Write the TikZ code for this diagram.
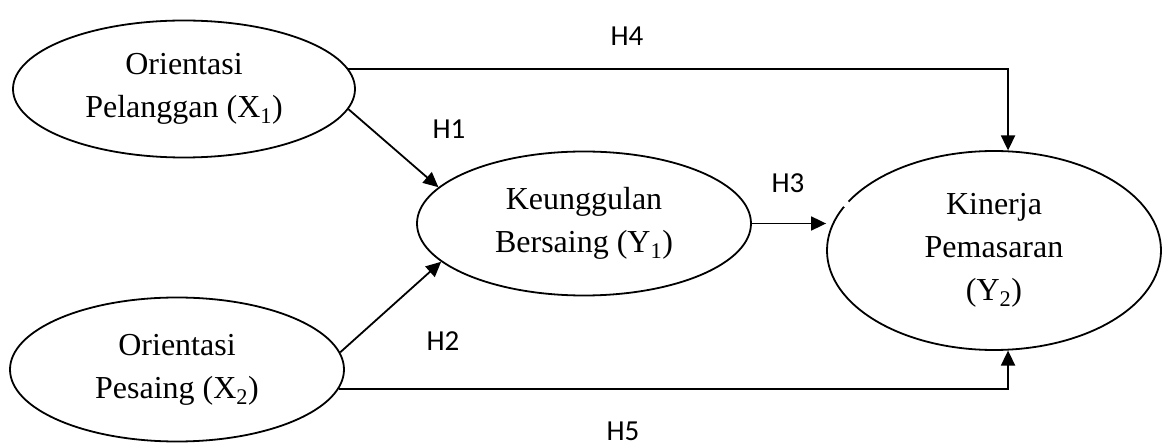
\documentclass[tikz,border=0pt]{standalone}
\usepackage{fontspec}
\setmainfont{Liberation Serif}
\newfontfamily\lblfont{Carlito}
\usetikzlibrary{shapes.geometric,arrows.meta}
\begin{document}
\begin{tikzpicture}[x=1pt,y=-1pt,
  var/.style={draw, line width=1.8pt, ellipse, inner sep=0pt, align=center,
    font=\fontsize{32}{43}\selectfont},
  conn/.style={line width=1.8pt, -{Triangle[length=15pt,width=14pt]}},
  hyp/.style={font=\lblfont\fontsize{29}{34}\selectfont, inner sep=0pt}]
\useasboundingbox (0,0) rectangle (1163,446);
\node[var, minimum width=342pt, minimum height=137pt] (x1) at (184,89)
  {Orientasi\\Pelanggan (X\textsubscript{1})};
\node[var, minimum width=334pt, minimum height=144pt] (y1) at (584,223.5)
  {Keunggulan\\Bersaing (Y\textsubscript{1})};
\node[var, minimum width=334pt, minimum height=199pt] (y2) at (994,250.5)
  {Kinerja\\Pemasaran\\(Y\textsubscript{2})};
\node[var, minimum width=334pt, minimum height=144pt] (x2) at (177,369.5)
  {Orientasi\\Pesaing (X\textsubscript{2})};
\fill[white] (846,204) circle (3.5);
\draw[conn] (x1.-7) -- (y1.166);
\draw[conn] (x2.6) -- (y1.-165);
\draw[conn] (y1.east) -- (y1.east -| y2.west);
\draw[conn] (x1.7.3) -| (y2.82);
\draw[conn] (x2.-7) -| (y2.-82);
\node[hyp] (h4) at (627,36) {H4};
\node[hyp] (h1) at (449,129) {H1};
\node[hyp] (h3) at (788,183) {H3};
\node[hyp] (h2) at (443,341) {H2};
\node[hyp] (h5) at (623,431) {H5};
\end{tikzpicture}
\end{document}
